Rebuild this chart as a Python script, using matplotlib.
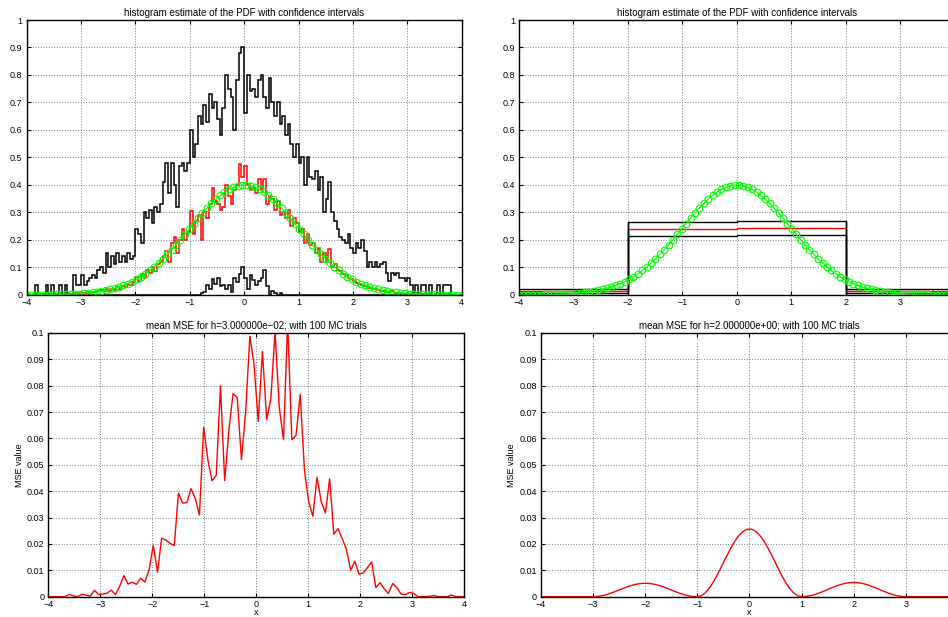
import numpy as np
import matplotlib
matplotlib.use("Agg")
import matplotlib.pyplot as plt

plt.rcParams['font.family'] = ['Liberation Sans', 'DejaVu Sans']
plt.rcParams['axes.unicode_minus'] = True

# ---------------------------------------------------------------- data
# evaluation grid (100 points on [-4, 4])
x_grid = np.linspace(-4, 4, 100)

# true N(0,1) density on the left half of the grid (mirrored for the right half)
pdf_half = [0.000134, 0.000184, 0.000252, 0.000343, 0.000462, 0.000621, 0.000828, 0.0011,
            0.00144, 0.00188, 0.00244, 0.00316, 0.00405, 0.00516, 0.00651, 0.00819,
            0.01023, 0.01269, 0.01565, 0.01912, 0.02327, 0.02813, 0.03378, 0.04033,
            0.04769, 0.05618, 0.06574, 0.07639, 0.08823, 0.1011, 0.1152, 0.1305,
            0.1468, 0.1641, 0.1820, 0.2007, 0.2201, 0.2396, 0.2591, 0.2785,
            0.2971, 0.3151, 0.3320, 0.3476, 0.3615, 0.3734, 0.3833, 0.3909,
            0.3960, 0.3986]
true_pdf = pdf_half + pdf_half[::-1]

# narrow-bin histogram (bin edges every 0.05 on [-4, 4])
edges_fine = np.linspace(-4, 4, 161)
est_fine = [0, 0, 0, 0.002, 0, 0.001, 0.002, 0, 0.002, 0.001,
            0.001, 0.002, 0.003, 0.001, 0.004, 0.002, 0.003, 0.006, 0.004, 0.005,
            0.008, 0.004, 0.009, 0.007, 0.011, 0.009, 0.013, 0.017, 0.012, 0.02,
            0.015, 0.022, 0.018, 0.027, 0.022, 0.03, 0.028, 0.037, 0.034, 0.045,
            0.065, 0.05, 0.075, 0.062, 0.09, 0.078, 0.1, 0.085, 0.11, 0.122,
            0.14, 0.16, 0.12, 0.19, 0.21, 0.15, 0.2, 0.24, 0.2, 0.23,
            0.305, 0.22, 0.27, 0.29, 0.2, 0.3, 0.28, 0.33, 0.388, 0.34,
            0.33, 0.31, 0.32, 0.4, 0.36, 0.33, 0.38, 0.4, 0.475, 0.43,
            0.47, 0.4, 0.38, 0.39, 0.37, 0.42, 0.38, 0.42, 0.33, 0.36,
            0.35, 0.31, 0.34, 0.29, 0.3, 0.28, 0.31, 0.25, 0.28, 0.26,
            0.23, 0.24, 0.19, 0.22, 0.18, 0.19, 0.15, 0.17, 0.12, 0.15,
            0.12, 0.165, 0.1, 0.11, 0.09, 0.085, 0.075, 0.07, 0.062, 0.058,
            0.05, 0.044, 0.04, 0.035, 0.033, 0.027, 0.025, 0.02, 0.019, 0.016,
            0.015, 0.012, 0.01, 0.009, 0.012, 0.006, 0.005, 0.008, 0.004, 0.004,
            0.004, 0.002, 0.003, 0.002, 0.001, 0.002, 0.001, 0.001, 0.002, 0.0,
            0.001, 0, 0.001, 0.001, 0, 0.001, 0, 0, 0, 0]
upper_fine = [0, 0, 0, 0.035, 0, 0, 0, 0.035, 0, 0.035,
              0, 0, 0.035, 0, 0.035, 0, 0, 0.07, 0.035, 0.035,
              0.07, 0.035, 0.05, 0.06, 0.07, 0.06, 0.09, 0.1, 0.08, 0.15,
              0.1, 0.14, 0.11, 0.15, 0.12, 0.14, 0.12, 0.15, 0.13, 0.14,
              0.24, 0.22, 0.19, 0.3, 0.28, 0.31, 0.26, 0.32, 0.3, 0.33,
              0.41, 0.48, 0.37, 0.48, 0.40, 0.32, 0.47, 0.48, 0.45, 0.48,
              0.60, 0.5, 0.55, 0.65, 0.62, 0.69, 0.63, 0.73, 0.68, 0.7,
              0.64, 0.58, 0.68, 0.8, 0.75, 0.72, 0.6, 0.78, 0.88, 0.9,
              0.66, 0.8, 0.74, 0.75, 0.72, 0.78, 0.8, 0.72, 0.68, 0.79,
              0.7, 0.65, 0.7, 0.62, 0.65, 0.58, 0.62, 0.55, 0.5, 0.55,
              0.48, 0.5, 0.4, 0.5, 0.43, 0.42, 0.45, 0.38, 0.43, 0.3,
              0.35, 0.41, 0.3, 0.27, 0.24, 0.21, 0.2, 0.19, 0.22, 0.17,
              0.15, 0.19, 0.17, 0.2, 0.16, 0.1, 0.12, 0.1, 0.12, 0.1,
              0.11, 0.12, 0.08, 0.05, 0.08, 0.07, 0.08, 0.06, 0.06, 0.05,
              0.06, 0.035, 0, 0.035, 0, 0.035, 0.035, 0, 0.035, 0,
              0, 0.035, 0, 0.035, 0.035, 0.035, 0, 0, 0, 0]
lower_fine = [0] * 64 + [0.005, 0.01, 0.035, 0.02, 0.058, 0.04, 0.06, 0.03, 0.035, 0.02,
                         0.035, 0.01, 0.06, 0.045, 0.075, 0.1, 0.06, 0.02, 0.07, 0.055,
                         0.035, 0.05, 0.06, 0.09, 0.03, 0, 0.015, 0.005, 0, 0.008] + [0] * 66

# wide-bin histogram (h = 2)
edges_wide = [-4, -2, 0, 2, 4]
est_wide = [0.012, 0.238, 0.2415, 0.0146]
upper_wide = [0.019, 0.263, 0.267, 0.022]
lower_wide = [0.005, 0.2136, 0.216, 0.007]

# mean MSE over the grid, h = 0.03
mse_fine = [0, 0, 0, 0, 0, 0.0009, 0.0003, 0, 0.0009, 0.0006,
            0.0002, 0.0024, 0.0008, 0.001, 0.0013, 0.0025, 0.0008, 0.004, 0.008, 0.0048,
            0.0055, 0.0047, 0.007, 0.0055, 0.0102, 0.0195, 0.0093, 0.0222, 0.0215, 0.0202,
            0.0194, 0.0393, 0.0355, 0.0357, 0.041, 0.0372, 0.031, 0.0643, 0.052, 0.044,
            0.046, 0.080, 0.044, 0.063, 0.077, 0.0755, 0.052, 0.070, 0.0988, 0.088,
            0.0665, 0.093, 0.0672, 0.075, 0.1005, 0.072, 0.0595, 0.104, 0.0595, 0.0612,
            0.0767, 0.048, 0.036, 0.0305, 0.0453, 0.036, 0.0318, 0.0447, 0.0237, 0.0258,
            0.022, 0.018, 0.010, 0.0135, 0.0085, 0.009, 0.011, 0.0132, 0.0035, 0.0053,
            0.003, 0.0012, 0.005, 0.0035, 0.001, 0.0008, 0.0016, 0.0013, 0, 0,
            0, 0.0002, 0.0004, 0, 0, 0, 0.0007, 0, 0, 0]

# mean MSE over the grid, h = 2
mse_wide = [0, 0, 0, 0, 0, 0, 0, 0, 0, 0,
            0, 0, 0, 0.00003, 0.00022, 0.00055, 0.00101, 0.00158, 0.00219, 0.00283,
            0.00346, 0.00403, 0.0045, 0.00485, 0.00505, 0.0051, 0.00498, 0.00469, 0.00428, 0.00376,
            0.00315, 0.00251, 0.00187, 0.00127, 0.00076, 0.00037, 0.0001, 0.0, 0.00032, 0.00143,
            0.00329, 0.00572, 0.00864, 0.01184, 0.0151, 0.01818, 0.02095, 0.0232, 0.02478, 0.0256,
            0.0256, 0.02478, 0.0232, 0.02095, 0.01818, 0.0151, 0.01184, 0.00864, 0.00572, 0.00329,
            0.00143, 0.00032, 0.0, 0.00011, 0.00039, 0.00081, 0.00135, 0.00198, 0.00266, 0.00334,
            0.00398, 0.00453, 0.00497, 0.00527, 0.0054, 0.00535, 0.00514, 0.00477, 0.00427, 0.00366,
            0.003, 0.00232, 0.00167, 0.00107, 0.00058, 0.00023, 0.00003, 0, 0, 0,
            0, 0, 0, 0, 0, 0, 0, 0, 0, 0]

titles_pdf = "histogram estimate of the PDF with confidence intervals"
titles_mse = ["mean MSE for h=3.000000e\u221202; with 100 MC trials",
              "mean MSE for h=2.000000e+00; with 100 MC trials"]

x_ticks = [-4, -3, -2, -1, 0, 1, 2, 3, 4]
x_tick_labels = ['\u22124', '\u22123', '\u22122', '\u22121', '0', '1', '2', '3', '4']
pdf_ticks = [0, 0.1, 0.2, 0.3, 0.4, 0.5, 0.6, 0.7, 0.8, 0.9, 1]
pdf_tick_labels = ['0', '0.1', '0.2', '0.3', '0.4', '0.5', '0.6', '0.7', '0.8', '0.9', '1']
mse_ticks = [0, 0.01, 0.02, 0.03, 0.04, 0.05, 0.06, 0.07, 0.08, 0.09, 0.1]
mse_tick_labels = ['0', '0.01', '0.02', '0.03', '0.04', '0.05', '0.06', '0.07', '0.08', '0.09', '0.1']

# ---------------------------------------------------------------- figure
W, H = 948, 617
fig = plt.figure(figsize=(W / 100, H / 100), dpi=100)

def px_axes(left, top, right, bottom):
    return fig.add_axes([left / W, 1 - bottom / H, (right - left) / W, (bottom - top) / H])

FS_TITLE = 7.0
FS_TICK = 6.5

def style(ax, yticks, ylabels, clip_right=False):
    ax.set_xlim(-4, 4)
    ax.set_xticks(x_ticks)
    # the right column runs past the figure edge, so its last label is not drawn
    xl = x_tick_labels[:-1] + [''] if clip_right else x_tick_labels
    ax.set_xticklabels(xl)
    ax.set_yticks(yticks)
    ax.set_yticklabels(ylabels)
    ax.set_ylim(yticks[0], yticks[-1])
    ax.tick_params(direction='in', top=True, right=True, length=3, width=0.8,
                   labelsize=FS_TICK, colors='black')
    ax.tick_params(axis='x', pad=2.2)
    ax.tick_params(axis='y', pad=3)
    ax.grid(True, color='0.35', linestyle=(0, (1, 2.2)), linewidth=0.6)
    for s in ax.spines.values():
        s.set_linewidth(1.0)
        s.set_zorder(5)

ax_tl = px_axes(26.7, 20, 461.7, 294.7)
ax_tr = px_axes(519, 20, 954.5, 294.7)
ax_bl = px_axes(48.3, 333, 464, 596.7)
ax_br = px_axes(541, 333, 957.8, 596.7)

green_kw = dict(color=(0, 1, 0), marker='o', markersize=4.8, markerfacecolor='none',
                markeredgewidth=0.8, linewidth=0.8, zorder=4)

# narrow bins
ax_tl.stairs(upper_fine, edges_fine, color='black', linewidth=1.1, zorder=3)
ax_tl.stairs(lower_fine, edges_fine, color='black', linewidth=1.1, zorder=3)
ax_tl.stairs(est_fine, edges_fine, color=(1, 0, 0), linewidth=1.1, zorder=3)
ax_tl.plot(x_grid, true_pdf, **green_kw)
style(ax_tl, pdf_ticks, pdf_tick_labels)
ax_tl.set_title(titles_pdf, fontsize=FS_TITLE, pad=3)

# wide bins
ax_tr.stairs(upper_wide, edges_wide, color='black', linewidth=1.0, zorder=3)
ax_tr.stairs(lower_wide, edges_wide, color='black', linewidth=1.0, zorder=3)
ax_tr.stairs(est_wide, edges_wide, color=(1, 0, 0), linewidth=1.0, zorder=3)
ax_tr.vlines([edges_wide[1], edges_wide[3]], 0, [upper_wide[1], upper_wide[2]],
             color='black', linewidth=1.0, zorder=3)
ax_tr.plot(x_grid, true_pdf, **green_kw)
style(ax_tr, pdf_ticks, pdf_tick_labels, clip_right=True)
ax_tr.set_title(titles_pdf, fontsize=FS_TITLE, pad=3)

# MSE curves
for ax, mse, title, clip in [(ax_bl, mse_fine, titles_mse[0], False),
                             (ax_br, mse_wide, titles_mse[1], True)]:
    ax.plot(x_grid, mse, color=(1, 0, 0), linewidth=1.0, zorder=3)
    style(ax, mse_ticks, mse_tick_labels, clip_right=clip)
    ax.set_title(title, fontsize=FS_TITLE, pad=3)
    ax.set_ylabel('MSE value', fontsize=FS_TICK, labelpad=2)
    # x label sits just under the tick labels, at the very bottom of the figure
    ax.annotate('x', xy=(0.5, 0), xycoords='axes fraction', xytext=(0, -15.5),
                textcoords='offset pixels', ha='center', va='center', fontsize=FS_TICK)

fig.savefig('out.png', dpi=100)
